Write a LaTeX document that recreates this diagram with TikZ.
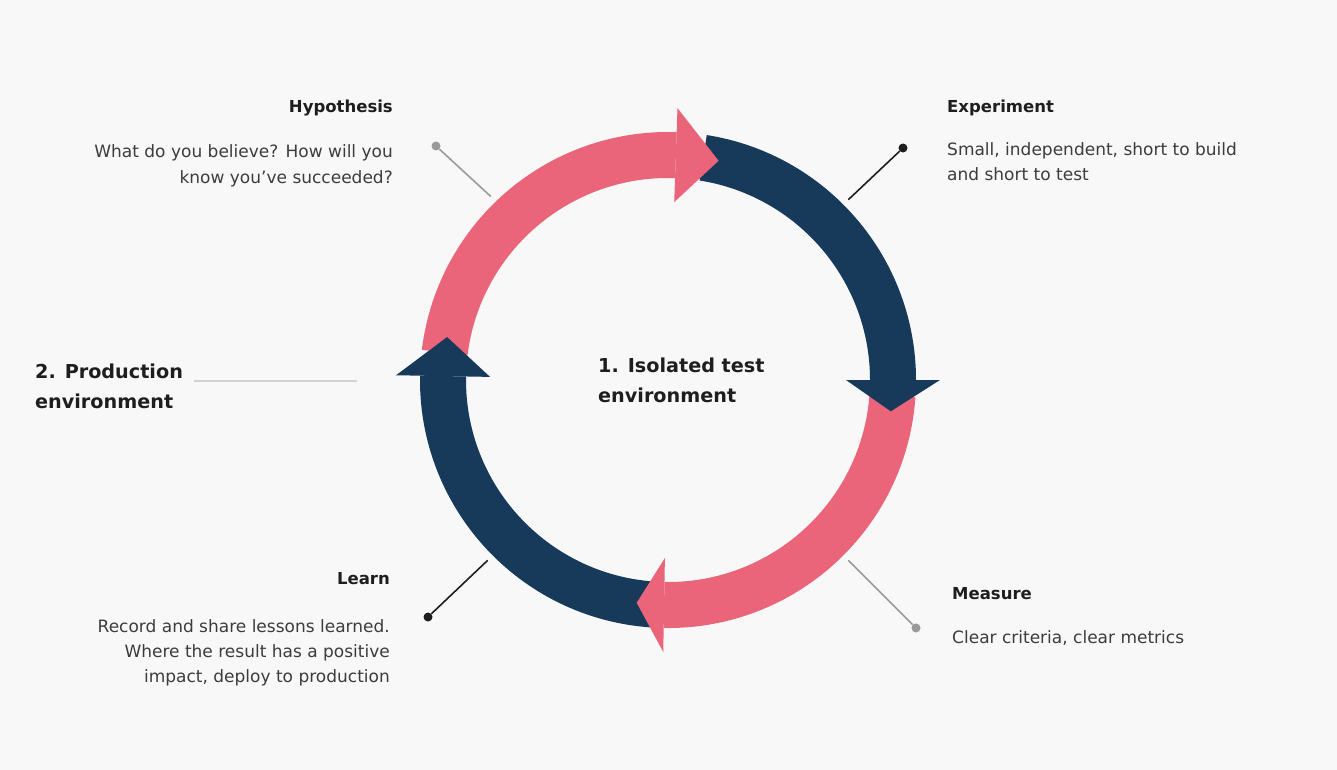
\documentclass[tikz,border=0pt]{standalone}
\usepackage{fontspec}
\setmainfont{DejaVu Sans}
\definecolor{bg}{HTML}{F8F8F8}
\definecolor{navy}{HTML}{173A5A}
\definecolor{pinkc}{HTML}{EA6579}
\definecolor{headc}{HTML}{1E1E1E}
\definecolor{bodyc}{HTML}{3C3C3C}
\definecolor{leadgray}{HTML}{9A9A9A}
\newcommand\RingShaft[3]{% colour, start angle, end angle
  \fill[#1] (#2:248) arc[start angle=#2,end angle=#3,radius=248] -- (#3:202) arc[start angle=#3,end angle=#2,radius=202] -- cycle;}
\newcommand\RingHead[3]{% colour, base angle, tip angle
  \fill[#1] (#2:272) -- (#3:225) -- (#2:178) -- cycle;}
\begin{document}
\begin{tikzpicture}[x=1pt,y=-1pt,
  headtxt/.style={font=\fontsize{16.5}{24.5}\selectfont\bfseries, text=headc, inner sep=0},
  bodytxt/.style={font=\fontsize{17}{25}\selectfont, text=bodyc, inner sep=0},
  envtxt/.style={font=\fontsize{19.2}{30}\selectfont\bfseries, text=headc, inner sep=0, align=left},
  darklead/.style={draw=headc, line width=1.6pt},
  graylead/.style={draw=leadgray, line width=1.6pt},
  dotdark/.style={circle, fill=headc, inner sep=0, minimum size=9pt},
  dotgray/.style={circle, fill=leadgray, inner sep=0, minimum size=9pt}]
\fill[bg] (0,0) rectangle (1337,770);
\useasboundingbox (0,0) rectangle (1337,770);

% ring
\begin{scope}[shift={(668,380)}, yscale=-1]
  \RingShaft{navy}{81}{0}
  \RingShaft{pinkc}{-4}{-91}
  \RingShaft{navy}{-94}{-181}
  \RingShaft{pinkc}{173}{88}
  \RingHead{navy}{0}{-8}
  \RingHead{pinkc}{-91}{-98}
  \RingHead{navy}{-181}{-191}
  \RingHead{pinkc}{88}{77}
  \coordinate (hypE) at (134:255);
  \coordinate (expE) at (45:255);
  \coordinate (meaE) at (-45:255);
  \coordinate (leaE) at (-135:255);
\end{scope}

% leader lines
\node[dotgray] (hypD) at (436,146) {};
\node[dotdark] (expD) at (903,148) {};
\node[dotgray] (meaD) at (916,628) {};
\node[dotdark] (leaD) at (428,617) {};
\draw[graylead] (hypD) -- (hypE);
\draw[darklead] (expD) -- (expE);
\draw[graylead] (meaD) -- (meaE);
\draw[darklead] (leaD) -- (leaE);

% production line
\coordinate (prodA) at (194,381);
\coordinate (prodB) at (357,381);
\draw[draw=gray!35, line width=2pt] (prodA) -- (prodB);

% texts (base anchor of a multi-line node = last line's baseline)
\node[headtxt, anchor=base east] (hyp) at (393,113) {Hypothesis};
\node[bodytxt, anchor=base east, align=right] (hypB) at (393,183) {What do you believe? How will you\\know you've succeeded?};
\node[headtxt, anchor=base west] (exp) at (947,113) {Experiment};
\node[bodytxt, anchor=base west, align=left] (expB) at (947,181) {Small, independent, short to build\\and short to test};
\node[headtxt, anchor=base east] (lea) at (390,584) {Learn};
\node[bodytxt, anchor=base east, align=right] (leaB) at (390,682) {Record and share lessons learned.\\Where the result has a positive\\impact, deploy to production};
\node[headtxt, anchor=base west] (mea) at (952,599) {Measure};
\node[bodytxt, anchor=base west] (meaB) at (952,643) {Clear criteria, clear metrics};
\node[envtxt, anchor=base west] (prod) at (35,408) {2. Production\\environment};
\node[envtxt, anchor=base west] (iso) at (598,402) {1. Isolated test\\environment};
\end{tikzpicture}
\end{document}
